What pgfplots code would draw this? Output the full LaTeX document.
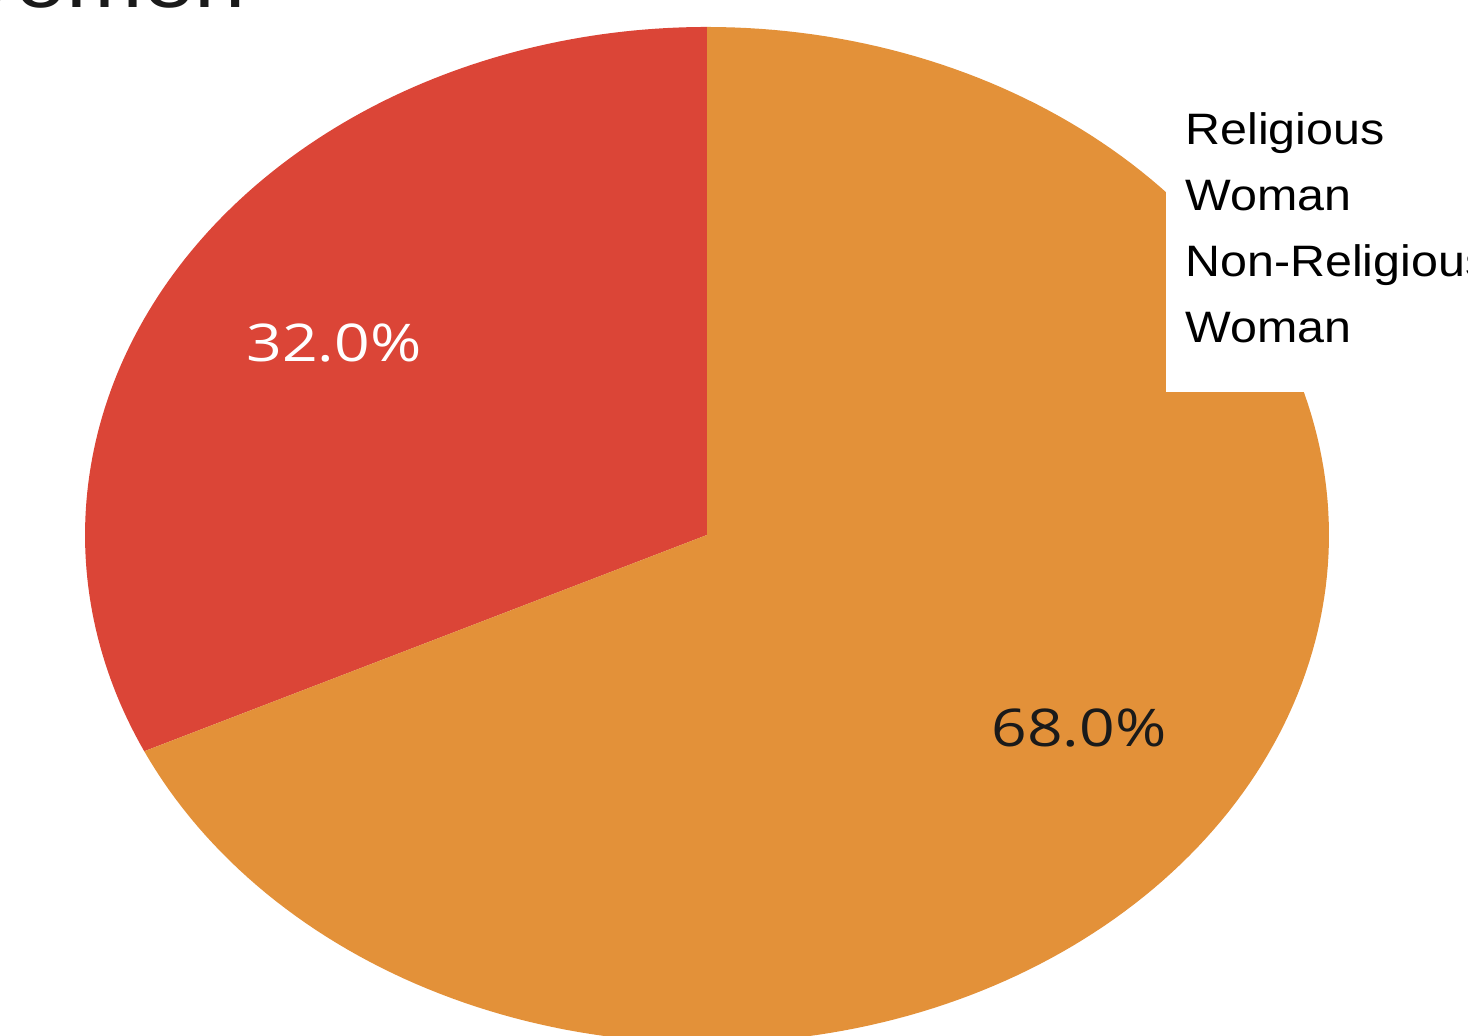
\documentclass[border=0pt]{standalone}
\usepackage{pgfplots}
\pgfplotsset{compat=1.18}
\usepackage{pgfplotstable}
\usepackage{fontspec}
\setmainfont{Liberation Sans}
\newfontfamily\osans{Open Sans}
\definecolor{pieRed}{HTML}{DB4537}
\definecolor{pieOrange}{HTML}{E39139}
\definecolor{labDark}{HTML}{1A1A1A}
\pgfplotstableread{
name value
NonReligious 32
Religious 68
}\piedata
\pgfplotstablegetelem{0}{value}\of\piedata
\let\valA\pgfplotsretval
\pgfplotstablegetelem{1}{value}\of\piedata
\let\valB\pgfplotsretval
\pgfmathsetmacro{\angA}{90+\valA*3.6}
\pgfmathsetmacro{\angB}{\angA+\valB*3.6}
\begin{document}
\begin{tikzpicture}
\useasboundingbox (0,0) rectangle (734pt,518pt);
\clip (0,0) rectangle (734pt,518pt);
\begin{axis}[
  at={(0,0)}, anchor=south west,
  scale only axis, width=734pt, height=518pt,
  xmin=-1.1367, xmax=1.2235, ymin=-0.9862, ymax=1.0531,
  axis lines=none, clip=false,
]
\addplot[fill=pieRed, draw=none, domain=90:\angA, samples=120, variable=\t]
  ({cos(\t)},{sin(\t)}) -- (axis cs:0,0) -- cycle;
\addplot[fill=pieOrange, draw=none, domain=\angA:\angB, samples=200, variable=\t]
  ({cos(\t)},{sin(\t)}) -- (axis cs:0,0) -- cycle;
\end{axis}
% percentage labels
\node[anchor=base, inner sep=0pt, text=white, xscale=1.2] at (167pt,337pt)
  {\osans\fontsize{26pt}{30pt}\selectfont 32.0\%};
\node[anchor=base, inner sep=0pt, text=labDark, xscale=1.2] at (539.5pt,144.5pt)
  {\osans\fontsize{26pt}{30pt}\selectfont 68.0\%};
% legend box
\fill[white] (583pt,322pt) rectangle (750pt,471pt);
\node[anchor=base west, inner sep=0pt, xscale=1.1] at (592.5pt,445.5pt) {\fontsize{22pt}{26pt}\selectfont Religious};
\node[anchor=base west, inner sep=0pt, xscale=1.1] at (592.5pt,412.5pt) {\fontsize{22pt}{26pt}\selectfont Woman};
\node[anchor=base west, inner sep=0pt, xscale=1.1] at (592.5pt,379.5pt) {\fontsize{22pt}{26pt}\selectfont Non-Religious};
\node[anchor=base west, inner sep=0pt, xscale=1.1] at (592.5pt,346.5pt) {\fontsize{22pt}{26pt}\selectfont Woman};
% cropped title
\node[anchor=base east, inner sep=0pt, text=labDark, xscale=1.15] at (123pt,514pt)
  {\fontsize{40pt}{46pt}\selectfont Women};
\end{tikzpicture}
\end{document}
